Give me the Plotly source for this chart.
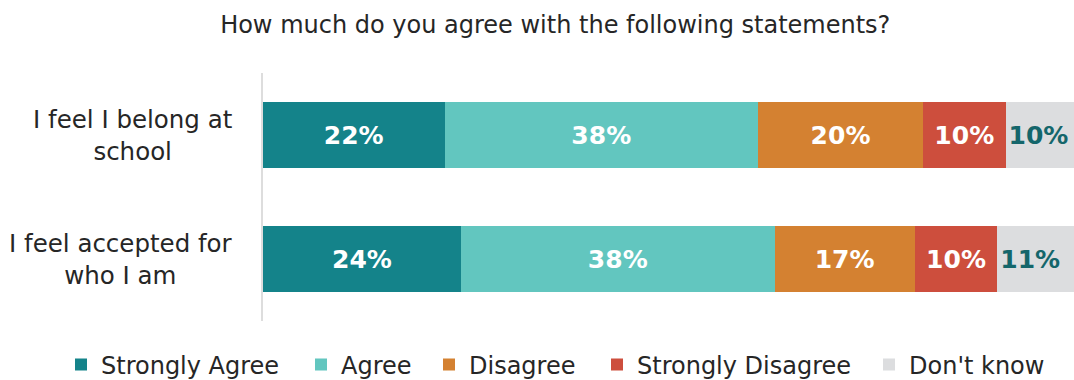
import plotly.graph_objects as go

# Survey statements (top to bottom) and response shares in percent
statements = ["I feel I belong at school", "I feel accepted for who I am"]
statement_labels = ["I feel I belong at<br>school", "I feel accepted for<br>who I am"]
responses = ["Strongly Agree", "Agree", "Disagree", "Strongly Disagree", "Don't know"]

strongly_agree = [22, 24]
agree = [38, 38]
disagree = [20, 17]
strongly_disagree = [10, 10]
dont_know = [10, 11]

colors = ["#14838A", "#62C6BF", "#D48131", "#CD4E3D", "#DCDDDF"]
label_colors = ["#FFFFFF", "#FFFFFF", "#FFFFFF", "#FFFFFF", "#14666B"]
# the last segment runs past the right edge, so its label starts at the bar's left end
label_anchor = ["middle", "middle", "middle", "middle", "start"]
# left edge (in px) of each legend entry along the bottom row
legend_x_px = [61, 301, 429, 597, 869]

FONT = "Verdana, DejaVu Sans, sans-serif"
TEXT = "#262626"
W, H = 1074, 380

series = [strongly_agree, agree, disagree, strongly_disagree, dont_know]

fig = go.Figure()
for i, (name, values, color, lc, anchor) in enumerate(
        zip(responses, series, colors, label_colors, label_anchor)):
    fig.add_trace(go.Bar(
        name=name,
        y=statements,
        x=values,
        orientation="h",
        marker=dict(color=color, line=dict(width=0)),
        text=[f"{v}%" for v in values],
        textposition="inside",
        insidetextanchor=anchor,
        textangle=0,
        textfont=dict(family=FONT, size=25, color=lc, weight="bold"),
        hoverinfo="skip",
        legend="legend" if i == 0 else f"legend{i + 1}",
    ))

# Category labels, centred line by line, to the left of the axis
for s, lab in zip(statements, statement_labels):
    fig.add_annotation(
        x=-0.035, xref="paper", y=s, yref="y",
        xanchor="right", yanchor="middle", align="center",
        text=lab, showarrow=False,
        font=dict(family=FONT, size=24.5, color=TEXT),
    )

# One single-entry legend per response, laid out in a row below the bars
legends = {}
for i, px in enumerate(legend_x_px):
    key = "legend" if i == 0 else f"legend{i + 1}"
    legends[key] = dict(
        orientation="h",
        xref="container", x=px / W, xanchor="left",
        yref="container", y=1 - 365 / H, yanchor="middle",
        font=dict(family=FONT, size=24, color=TEXT),
        itemwidth=30,
        bgcolor="rgba(0,0,0,0)",
    )

fig.update_layout(
    width=W, height=H,
    barmode="stack",
    bargap=0.468,
    paper_bgcolor="white",
    plot_bgcolor="white",
    margin=dict(l=263, r=0, t=73, b=59, autoexpand=False),
    font=dict(family=FONT, color=TEXT),
    title=dict(
        text="How much do you agree with the following statements?",
        x=0.517, xref="container", xanchor="center",
        y=0.934, yref="container", yanchor="middle",
        font=dict(family=FONT, size=24, color=TEXT),
    ),
    xaxis=dict(range=[0, 98.3], visible=False, fixedrange=True),
    yaxis=dict(
        categoryorder="array", categoryarray=statements,
        autorange="reversed",
        showticklabels=False, ticks="",
        showgrid=False, zeroline=False,
        showline=True, linecolor="#DDDDDD", linewidth=2,
    ),
    showlegend=True,
    **legends,
)

fig.write_html("out.html")
